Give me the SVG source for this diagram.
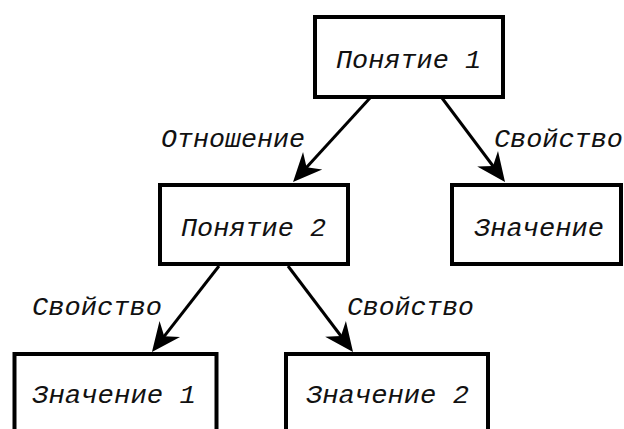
<svg xmlns="http://www.w3.org/2000/svg" width="624" height="429" viewBox="0 0 624 429">
<style>
.box{fill:#fff;stroke:#000;stroke-width:4}
.lbl{font-family:"Liberation Mono","DejaVu Sans Mono",monospace;font-style:italic;font-size:25px;fill:#111}
.edge{stroke:#000;stroke-width:3;fill:none;marker-end:url(#arr)}
</style>
<defs>
<marker id="arr" markerUnits="userSpaceOnUse" refX="0" refY="0" orient="auto" markerWidth="40" markerHeight="40" overflow="visible">
<path d="M10,0 L-19,-13 L-10,0 L-19,13 Z" fill="#000"/>
</marker>
</defs>
<rect width="624" height="429" fill="#fff"/>
<g id="connectors">
<line class="edge" x1="370" y1="98" x2="299.8" y2="174.7"/>
<line class="edge" x1="442" y1="98" x2="499" y2="174"/>
<line class="edge" x1="219" y1="266" x2="158.1" y2="344.1"/>
<line class="edge" x1="288" y1="266" x2="347" y2="344"/>
<text class="lbl" x="161" y="147" textLength="144" lengthAdjust="spacingAndGlyphs">Отношение</text>
<text class="lbl" x="494" y="147" textLength="129" lengthAdjust="spacingAndGlyphs">Свойство</text>
<text class="lbl" x="32" y="315" textLength="130" lengthAdjust="spacingAndGlyphs">Свойство</text>
<text class="lbl" x="347" y="315" textLength="127" lengthAdjust="spacingAndGlyphs">Свойство</text>
</g>
<g id="node-ponyatie1">
<rect class="box" x="315" y="17" width="188" height="80"/>
<text class="lbl" x="336" y="68" textLength="145" lengthAdjust="spacingAndGlyphs">Понятие 1</text>
</g>
<g id="node-ponyatie2">
<rect class="box" x="160" y="185" width="188" height="79"/>
<text class="lbl" x="181" y="236" textLength="145" lengthAdjust="spacingAndGlyphs">Понятие 2</text>
</g>
<g id="node-znachenie">
<rect class="box" x="452" y="185" width="169" height="79"/>
<text class="lbl" x="474" y="236" textLength="130" lengthAdjust="spacingAndGlyphs">Значение</text>
</g>
<g id="node-znachenie1">
<rect class="box" x="14.5" y="354" width="202" height="100"/>
<text class="lbl" x="32" y="403" textLength="164" lengthAdjust="spacingAndGlyphs">Значение 1</text>
</g>
<g id="node-znachenie2">
<rect class="box" x="286" y="354" width="202" height="100"/>
<text class="lbl" x="306" y="403" textLength="163" lengthAdjust="spacingAndGlyphs">Значение 2</text>
</g>
</svg>
